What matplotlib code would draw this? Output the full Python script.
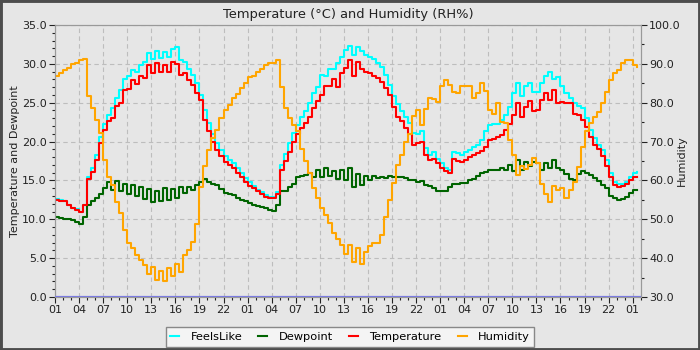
import numpy as np
import matplotlib
matplotlib.use("Agg")
import matplotlib.pyplot as plt
from matplotlib.ticker import MultipleLocator, FormatStrFormatter, FixedLocator
from matplotlib.patches import Rectangle

# hours since 01:00 on day 1, half-hour steps (0 .. 72.5)
hours = np.arange(0, 73, 0.5)

temperature = [
    # day 1 (h0 .. h24)
    12.5, 12.4, 12.3, 11.8, 11.4, 11.2, 10.9, 11.8, 15.2, 16.1,
    17.6, 19.8, 21.5, 22.6, 23.0, 24.6, 25.0, 26.6, 26.8, 27.9,
    27.4, 28.4, 28.2, 29.9, 28.8, 30.1, 28.9, 29.8, 29.0, 30.3,
    30.0, 28.6, 28.8, 27.9, 27.3, 26.2, 25.4, 22.8, 21.3, 20.0,
    18.9, 18.1, 17.4, 17.0, 16.6, 15.9, 15.5, 14.8, 14.3,
    # day 2 (h24.5 .. h48)
    14.0, 13.6, 13.3, 12.9, 12.7, 12.7, 13.3, 16.3, 17.5, 18.7,
    19.9, 21.0, 21.7, 22.4, 23.2, 24.3, 25.2, 26.0, 27.1, 27.2,
    28.0, 27.0, 28.8, 29.5, 30.5, 28.5, 30.3, 29.4, 29.0, 28.8,
    28.4, 28.2, 27.7, 26.9, 26.0, 24.5, 23.2, 22.6, 21.8, 21.0,
    19.6, 19.8, 19.9, 18.3, 17.6, 17.8, 17.2, 16.6,
    # day 3 (h48.5 .. h72.5)
    16.2, 15.9, 17.8, 17.5, 17.4, 17.6, 18.0, 18.3, 18.5, 18.8,
    19.3, 20.2, 20.3, 20.6, 20.9, 21.5, 22.3, 23.4, 25.0, 23.2,
    24.4, 25.2, 23.9, 24.0, 25.3, 26.2, 25.4, 26.6, 25.0, 25.1,
    24.9, 24.9, 23.6, 23.4, 22.8, 21.9, 20.6, 19.6, 19.1, 18.1,
    16.8, 15.5, 14.4, 14.2, 14.3, 14.5, 15.1, 15.4, 15.5,
]

feelslike = [
    12.6, 12.5, 12.4, 11.9, 11.5, 11.3, 11.0, 11.9, 15.4, 16.6,
    18.3, 20.6, 22.3, 23.4, 24.3, 25.6, 26.6, 28.0, 28.4, 29.2,
    29.0, 29.8, 30.3, 31.4, 30.6, 31.6, 30.7, 31.5, 30.9, 31.9,
    32.2, 30.5, 30.2, 29.3, 28.6, 27.5, 26.0, 24.0, 22.4, 21.0,
    19.8, 18.9, 18.1, 17.6, 17.2, 16.6, 16.0, 15.3, 14.8,
    14.3, 13.8, 13.5, 13.1, 12.9, 12.9, 13.5, 17.0, 18.4, 19.8,
    21.1, 22.1, 23.2, 23.9, 25.0, 26.2, 27.0, 28.6, 28.5, 29.4,
    29.3, 30.1, 30.9, 31.8, 32.3, 31.2, 32.2, 31.6, 31.2, 30.9,
    30.6, 30.1, 29.6, 28.6, 27.3, 25.8, 24.8, 23.9, 23.2, 22.4,
    21.1, 21.0, 21.3, 19.2, 18.3, 18.7, 17.8, 17.2,
    16.6, 16.4, 18.7, 18.5, 18.3, 18.6, 18.9, 19.3, 19.6, 20.2,
    21.3, 22.1, 22.3, 22.3, 22.8, 23.4, 24.5, 26.2, 27.5, 25.8,
    27.1, 27.5, 26.4, 26.4, 27.5, 28.4, 29.0, 28.1, 28.3, 27.1,
    26.2, 25.6, 24.9, 24.6, 24.3, 23.0, 21.5, 20.4, 19.6, 18.9,
    17.6, 15.9, 14.8, 14.6, 14.6, 14.8, 15.4, 16.0, 16.1,
]

dewpoint = [
    10.3, 10.2, 10.1, 10.0, 9.9, 9.7, 9.4, 10.3, 11.8, 12.3,
    12.7, 13.3, 14.0, 14.8, 13.8, 14.9, 13.6, 14.6, 13.2, 14.4,
    13.0, 14.1, 12.6, 13.9, 12.2, 13.6, 12.4, 14.0, 12.5, 13.9,
    12.8, 14.2, 13.4, 14.1, 13.8, 14.4, 14.8, 15.2, 14.8, 14.5,
    14.4, 13.9, 13.4, 13.2, 13.1, 12.8, 12.5, 12.3, 12.1,
    11.9, 11.7, 11.6, 11.5, 11.2, 11.1, 11.8, 13.6, 13.7, 14.1,
    14.6, 15.4, 15.6, 15.7, 15.9, 15.4, 16.4, 15.5, 16.6, 15.6,
    16.2, 15.2, 16.4, 15.0, 16.6, 14.2, 15.8, 14.4, 15.6, 15.0,
    15.6, 15.3, 15.5, 15.3, 15.6, 15.5, 15.5, 15.4, 15.3, 15.1,
    15.0, 14.8, 14.9, 14.4, 14.3, 14.0, 13.6, 13.6,
    13.6, 14.2, 14.5, 14.6, 14.7, 14.7, 15.0, 15.2, 15.6, 15.9,
    16.1, 16.3, 16.3, 16.4, 16.6, 16.4, 17.0, 16.2, 17.6, 16.4,
    17.4, 16.8, 17.4, 17.2, 16.4, 17.2, 16.6, 17.6, 16.6, 16.3,
    15.8, 15.2, 15.1, 15.8, 16.2, 16.0, 15.7, 15.3, 14.9, 14.4,
    14.0, 13.0, 12.8, 12.5, 12.6, 12.9, 13.4, 13.8, 13.8,
]

humidity = [
    86.9, 87.6, 88.3, 89.0, 89.9, 90.2, 91.0, 91.2, 81.6, 78.6,
    75.6, 72.1, 65.3, 61.0, 58.8, 54.5, 51.6, 47.3, 43.8, 42.5,
    40.8, 39.5, 38.2, 36.0, 37.8, 34.5, 36.8, 34.2, 37.5, 35.5,
    38.6, 36.5, 40.8, 42.1, 44.2, 48.9, 58.4, 63.6, 67.9, 70.9,
    73.0, 76.0, 78.2, 79.4, 81.2, 82.3, 83.7, 85.0, 86.6,
    86.8, 88.0, 88.6, 89.7, 90.2, 90.2, 90.9, 84.0, 78.6, 76.0,
    74.3, 72.6, 68.0, 65.0, 62.0, 58.0, 55.5, 53.0, 51.0, 49.0,
    46.5, 45.0, 43.5, 41.0, 43.5, 39.0, 42.5, 38.5, 41.5, 43.0,
    44.0, 44.0, 46.0, 50.5, 55.0, 59.3, 64.0, 66.5, 70.0, 72.0,
    76.5, 78.0, 74.3, 78.4, 81.2, 80.9, 80.1, 84.2,
    85.8, 84.5, 82.8, 82.6, 84.2, 84.2, 84.2, 81.2, 82.4, 85.0,
    83.0, 78.2, 77.0, 80.0, 75.1, 74.8, 70.5, 66.5, 61.5, 63.8,
    63.0, 64.0, 65.9, 64.5, 59.0, 56.5, 54.5, 58.5, 57.5, 58.0,
    55.5, 57.5, 59.5, 63.5, 68.7, 72.6, 74.8, 76.4, 77.7, 79.8,
    82.8, 85.9, 87.6, 88.4, 90.2, 91.0, 91.0, 89.8, 89.2,
]

tick_hours = np.arange(0, 73, 3)
tick_labels = ["%02d" % ((1 + h) % 24) for h in tick_hours]

BG = "#e6e6e6"
TXT = "#222222"
fig = plt.figure(figsize=(7, 3.5), dpi=100, facecolor=BG)
fig.patches.append(Rectangle((0, 0), 1, 1, transform=fig.transFigure,
                             fill=False, edgecolor="#4d4d4d", linewidth=3.5, zorder=10))

ax = fig.add_axes([0.0786, 0.1514, 0.9153 - 0.0786, 0.9286 - 0.1514])
ax.set_facecolor(BG)
ax2 = ax.twinx()

l1, = ax.plot(hours, feelslike, color="#00ffff", lw=1.5, drawstyle="steps-post", label="FeelsLike")
l2, = ax.plot(hours, dewpoint, color="#006400", lw=1.5, drawstyle="steps-post", label="Dewpoint")
l3, = ax.plot(hours, temperature, color="#ff0000", lw=1.5, drawstyle="steps-post", label="Temperature")
l4, = ax2.plot(hours, humidity, color="#ffa500", lw=1.5, drawstyle="steps-post", label="Humidity")
ax2.axhline(30, color="#7b7be0", lw=1.6, zorder=5)

ax.set_xlim(0, 73)
ax.set_ylim(0, 35)
ax2.set_ylim(30, 100)

ax.xaxis.set_major_locator(FixedLocator(tick_hours))
ax.set_xticklabels(tick_labels)
ax.xaxis.set_minor_locator(MultipleLocator(1))
ax.yaxis.set_major_locator(MultipleLocator(5))
ax.yaxis.set_minor_locator(MultipleLocator(1))
ax.yaxis.set_major_formatter(FormatStrFormatter("%.1f"))
ax2.yaxis.set_major_locator(MultipleLocator(10))
ax2.yaxis.set_minor_locator(MultipleLocator(5))
ax2.yaxis.set_major_formatter(FormatStrFormatter("%.1f"))

for a in (ax, ax2):
    a.tick_params(axis="both", which="major", length=4, width=0.8, labelsize=8, colors=TXT, pad=2)
    a.tick_params(axis="both", which="minor", length=2.5, width=0.8, colors=TXT)
    for s in a.spines.values():
        s.set_color("#999999")

ax.grid(True, which="major", linestyle=(0, (4, 3)), color="#bdbdbd", linewidth=0.8)
ax.set_axisbelow(True)

ax.set_title("Temperature (\u00b0C) and Humidity (RH%)", fontsize=9.4, color=TXT, pad=5)
ax.set_ylabel("Temperature and Dewpoint", fontsize=8, color=TXT)
ax2.set_ylabel("Humidity", fontsize=8, color=TXT)
ax.yaxis.set_label_coords(-0.0598, 0.5)
ax2.yaxis.set_label_coords(1.062, 0.5)

leg = fig.legend(handles=[l1, l2, l3, l4], loc="center", bbox_to_anchor=(0.5, 0.037),
                 ncol=4, fontsize=8.2, frameon=True, fancybox=False,
                 handlelength=0.8, columnspacing=1.4, handletextpad=1.0,
                 borderpad=0.4, edgecolor="#888888", facecolor="#f4f4f4")
leg.get_frame().set_linewidth(1.0)
leg.get_frame().set_alpha(1.0)

fig.savefig("out.png", dpi=100, facecolor=BG)
